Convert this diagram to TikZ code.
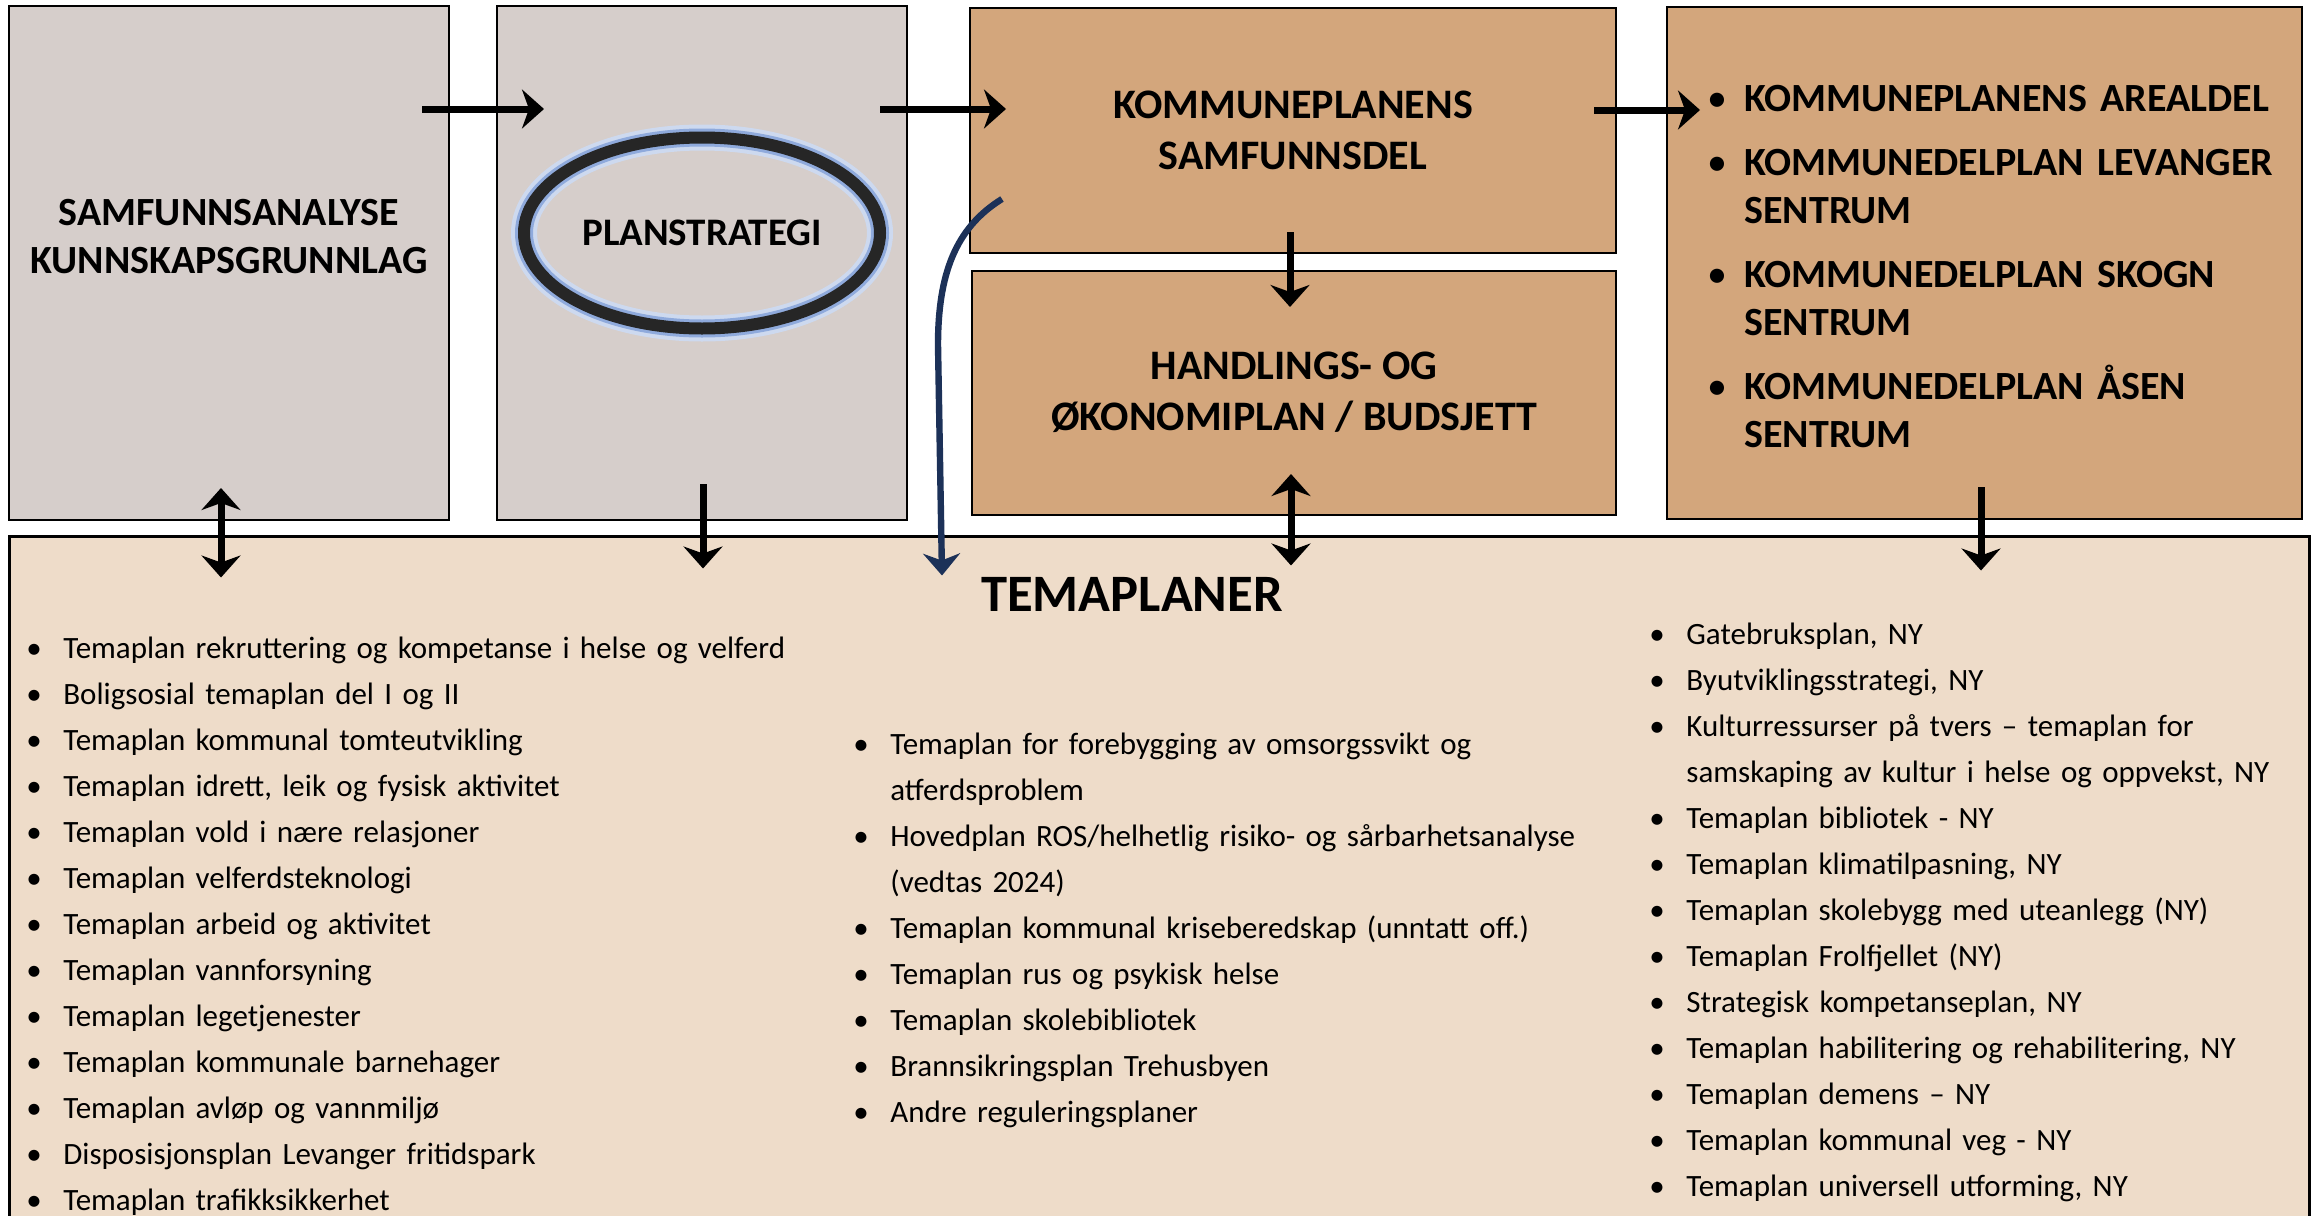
\documentclass[tikz,border=0pt]{standalone}
\usepackage{fontspec}
\setmainfont{Carlito}
\usetikzlibrary{arrows.meta,calc,fit,shapes.geometric}

\definecolor{graafarge}{HTML}{D6CECB}
\definecolor{brunfarge}{HTML}{D3A67C}
\definecolor{lysfarge}{HTML}{EEDCC9}
\definecolor{ringfarge}{HTML}{262626}
\definecolor{glodfarge}{HTML}{8FAADC}
\definecolor{marine}{HTML}{1C3158}

% punkt i en liste, med hengende innrykk
\newcommand{\punkt}[2][18.5pt]{\par\noindent\hangindent=#1\hangafter=1\makebox[#1][l]{\mdseries\textbullet}#2}

\begin{document}
\begin{tikzpicture}[x=0.5pt,y=-0.5pt]
\tikzstyle{graafelt} = [draw, fill=graafarge, line width=1pt, inner sep=0pt]
\tikzstyle{brunfelt} = [draw, fill=brunfarge, line width=1pt, inner sep=0pt]
\tikzstyle{lysfelt} = [draw, fill=lysfarge, line width=1.5pt, inner sep=0pt]
\tikzstyle{tittel} = [inner sep=0pt, align=center, anchor=north, font=\fontsize{20}{24}\selectfont\bfseries]
\tikzstyle{liste} = [inner sep=0pt, anchor=north west, align=left, text width=560pt, font=\fontsize{15.5}{23}\selectfont]
\tikzstyle{pil} = [line width=3.5pt, -{Stealth[length=11pt,width=19.5pt,inset=3.5pt]}]
\tikzstyle{dobbelpil} = [line width=3.5pt, {Stealth[length=11pt,width=19.5pt,inset=3.5pt]}-{Stealth[length=11pt,width=19.5pt,inset=3.5pt]}]
\tikzstyle{blaapil} = [line width=3.2pt, color=marine, -{Stealth[length=11pt,width=18.5pt,inset=3.5pt]}]

\clip (0,0) rectangle (2316,1215);

% feltene
\node [graafelt, fit={(9,6) (449,520)}] (samf) {};
\node [graafelt, fit={(497,6) (907,520)}] (plan) {};
\node [brunfelt, fit={(970,8) (1616,253)}] (ksam) {};
\node [brunfelt, fit={(972,271) (1616,515)}] (hok) {};
\node [brunfelt, fit={(1667,7) (2302,519)}] (areal) {};
\node [lysfelt, fit={(9,536) (2309,1260)}] (tema) {};

\node [ellipse, draw=ringfarge, line width=6pt, minimum width=178pt, minimum height=95.5pt, inner sep=0pt,
  preaction={draw=glodfarge!45, line width=13pt},
  preaction={draw=glodfarge, line width=9pt},
  font=\fontsize{19.5}{24}\selectfont\bfseries] (plstrat) at (702,233) {PLANSTRATEGI};

% tekstene
\node [tittel] (samftekst) at (229,199) {SAMFUNNSANALYSE\\KUNNSKAPSGRUNNLAG};
\node [tittel, font=\fontsize{21}{25.5}\selectfont\bfseries] (ksamtekst) at (1293,91) {KOMMUNEPLANENS\\SAMFUNNSDEL};
\node [tittel, font=\fontsize{21}{25.5}\selectfont\bfseries] (hoktekst) at (1294,352) {HANDLINGS- OG\\ØKONOMIPLAN / BUDSJETT};
\node [tittel, anchor=north west, align=left, text width=300pt] (arealtekst) at (1707,47) {\setlength{\parskip}{8pt}%
  \punkt{KOMMUNEPLANENS AREALDEL}
  \punkt{KOMMUNEDELPLAN LEVANGER\newline SENTRUM}
  \punkt{KOMMUNEDELPLAN SKOGN\newline SENTRUM}
  \punkt{KOMMUNEDELPLAN ÅSEN\newline SENTRUM}\par};

\node [inner sep=0pt, anchor=base, font=\fontsize{26.3}{30}\selectfont\bfseries] (temaoverskrift) at (1132,611) {TEMAPLANER};

\node [liste] (venstreliste) at (26,612) {%
  \punkt{Temaplan rekruttering og kompetanse i helse og velferd}
  \punkt{Boligsosial temaplan del I og II}
  \punkt{Temaplan kommunal tomteutvikling}
  \punkt{Temaplan idrett, leik og fysisk aktivitet}
  \punkt{Temaplan vold i nære relasjoner}
  \punkt{Temaplan velferdsteknologi}
  \punkt{Temaplan arbeid og aktivitet}
  \punkt{Temaplan vannforsyning}
  \punkt{Temaplan legetjenester}
  \punkt{Temaplan kommunale barnehager}
  \punkt{Temaplan avløp og vannmiljø}
  \punkt{Disposisjonsplan Levanger fritidspark}
  \punkt{Temaplan trafikksikkerhet}\par};

\node [liste] (midtliste) at (853,708.5) {%
  \punkt{Temaplan for forebygging av omsorgssvikt og\newline atferdsproblem}
  \punkt{Hovedplan ROS/helhetlig risiko- og sårbarhetsanalyse\newline (vedtas 2024)}
  \punkt{Temaplan kommunal kriseberedskap (unntatt off.)}
  \punkt{Temaplan rus og psykisk helse}
  \punkt{Temaplan skolebibliotek}
  \punkt{Brannsikringsplan Trehusbyen}
  \punkt{Andre reguleringsplaner}\par};

\node [liste] (hoyreliste) at (1649,598.5) {%
  \punkt{Gatebruksplan, NY}
  \punkt{Byutviklingsstrategi, NY}
  \punkt{Kulturressurser på tvers – temaplan for\newline samskaping av kultur i helse og oppvekst, NY}
  \punkt{Temaplan bibliotek - NY}
  \punkt{Temaplan klimatilpasning, NY}
  \punkt{Temaplan skolebygg med uteanlegg (NY)}
  \punkt{Temaplan Frolfjellet (NY)}
  \punkt{Strategisk kompetanseplan, NY}
  \punkt{Temaplan habilitering og rehabilitering, NY}
  \punkt{Temaplan demens – NY}
  \punkt{Temaplan kommunal veg - NY}
  \punkt{Temaplan universell utforming, NY}\par};

% pilene
\draw [pil] ($(samf.north east)+(-28,104)$) -- ($(plan.north west)+(48,104)$);
\draw [pil] ($(plan.north east)+(-28,104)$) -- ($(ksam.north west)+(37,102)$);
\draw [pil] ($(ksam.north east)+(-23,103)$) -- ($(areal.north west)+(34,104)$);
\draw [pil] ($(ksam.south)+(-3,-22)$) -- ($(hok.north)+(-4,37)$);
\draw [dobbelpil] ($(hok.south)+(-3,-42)$) -- ($(hok.south |- tema.north)+(-3,31)$);
\draw [pil] ($(areal.south)+(-3.5,-33)$) -- ($(areal.south |- tema.north)+(-3.5,36)$);
\draw [dobbelpil] ($(samf.south)+(-8,-33)$) -- ($(samf.south |- tema.north)+(-8,43)$);
\draw [pil] ($(plan.south)+(1,-37)$) -- ($(plan.south |- tema.north)+(1,34)$);
\draw [blaapil] ($(ksam.south west)+(33,-55)$) .. controls (955,228) and (938,275) .. (938,345) -- ($(ksam.south west |- tema.north)+(-27,41)$);
\end{tikzpicture}
\end{document}
